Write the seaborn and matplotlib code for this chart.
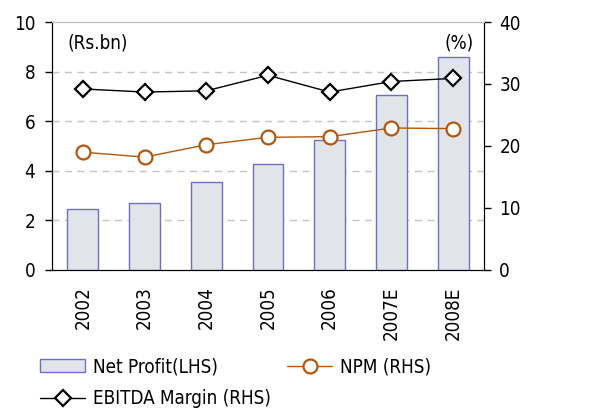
import numpy as np
import pandas as pd
import seaborn as sns
import matplotlib.pyplot as plt
from matplotlib.lines import Line2D
from matplotlib.patches import Patch

# data
years = ["2002", "2003", "2004", "2005", "2006", "2007E", "2008E"]
net_profit = [2.47, 2.69, 3.56, 4.29, 5.23, 7.04, 8.58]      # Rs.bn (LHS)
npm = [19.0, 18.2, 20.2, 21.4, 21.5, 22.9, 22.8]              # % (RHS)
ebitda_margin = [29.2, 28.7, 28.9, 31.4, 28.7, 30.4, 30.9]    # % (RHS)

df = pd.DataFrame({"year": years, "pos": np.arange(len(years)),
                   "net_profit": net_profit, "npm": npm, "ebitda": ebitda_margin})

sns.set_style("white")
plt.rcParams["font.family"] = ["DejaVu Sans"]
plt.rcParams["font.stretch"] = "condensed"
plt.rcParams["font.size"] = 13.5
plt.rcParams["text.color"] = "black"
plt.rcParams["xtick.color"] = "black"
plt.rcParams["ytick.color"] = "black"

bar_face = "#e1e4e8"
bar_edge = "#6f6fc4"
npm_col = "#b3570f"

fig = plt.figure(figsize=(6.03, 4.09), dpi=100)
ax = fig.add_axes([0.0862, 0.34, 0.7165, 0.6062])
ax2 = ax.twinx()

sns.barplot(data=df, x="pos", y="net_profit", ax=ax, width=0.5,
            color=bar_face, edgecolor=bar_edge, linewidth=1.0, saturation=1,
            zorder=3)

sns.lineplot(data=df, x="pos", y="ebitda", ax=ax2, color="black", lw=1,
             marker="D", markersize=8, markerfacecolor="white",
             markeredgecolor="black", markeredgewidth=1.6)
sns.lineplot(data=df, x="pos", y="npm", ax=ax2, color=npm_col, lw=1,
             marker="o", markersize=10, markerfacecolor="white",
             markeredgecolor=npm_col, markeredgewidth=1.6)

ax.set_xlim(-0.5, len(years) - 0.5)
ax.set_ylim(0, 10)
ax2.set_ylim(0, 40)
ax.set_yticks([0, 2, 4, 6, 8, 10])
ax2.set_yticks([0, 10, 20, 30, 40])
ax.set_xticks(df["pos"])
ax.set_xticklabels(years, rotation=90)
ax.set_xticks(np.arange(-0.5, len(years), 1), minor=True)
ax.tick_params(axis="x", which="major", length=0, pad=12)
ax.tick_params(axis="x", which="minor", length=5, width=1, direction="out")
ax.tick_params(axis="y", length=5, width=1, direction="out", left=True, pad=7)
ax2.tick_params(axis="y", length=5, width=1, direction="out", right=True, pad=6)
ax.set_xlabel("")
ax.set_ylabel("")
ax2.set_ylabel("")

for y in [2, 4, 6, 8]:
    ax.axhline(y, color="#c4c4c4", lw=1, ls=(0, (5, 4)), zorder=1)

for a in (ax, ax2):
    a.spines["top"].set_color("#c0c0c0")
    a.spines["left"].set_color("black")
    a.spines["right"].set_color("black")
    a.spines["bottom"].set_color("black")

ax.text(0.035, 0.955, "(Rs.bn)", transform=ax.transAxes, ha="left", va="top")
ax.text(0.975, 0.955, "(%)", transform=ax.transAxes, ha="right", va="top")

handles = [
    Patch(facecolor=bar_face, edgecolor=bar_edge, label="Net Profit(LHS)"),
    Line2D([], [], color="black", lw=1, marker="D", markersize=8,
           markerfacecolor="white", markeredgecolor="black",
           markeredgewidth=1.6, label="EBITDA Margin (RHS)"),
    Line2D([], [], color=npm_col, lw=1, marker="o", markersize=10,
           markerfacecolor="white", markeredgecolor=npm_col,
           markeredgewidth=1.6, label="NPM (RHS)"),
]
fig.legend(handles=handles, ncol=2, loc="upper left",
           bbox_to_anchor=(0.054, 0.145), frameon=False,
           handlelength=2.4, handletextpad=0.4, columnspacing=0.9,
           labelspacing=0.7, borderaxespad=0)

fig.savefig("out.png", dpi=100)
